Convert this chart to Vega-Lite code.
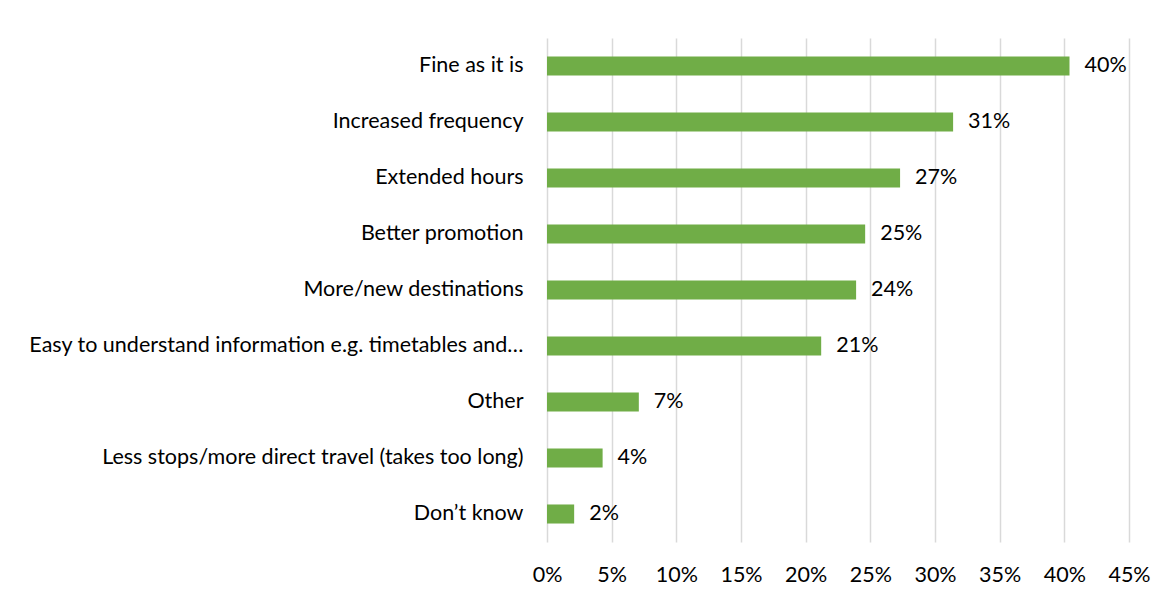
{
  "$schema": "https://vega.github.io/schema/vega-lite/v6.json",
  "autosize": {"type": "none"},
  "width": 582,
  "height": 504,
  "padding": {"left": 547, "top": 38, "right": 45, "bottom": 55},
  "background": "#ffffff",
  "config": {
    "view": {"stroke": null},
    "font": "Lato",
    "axis": {"labelFont": "Lato", "labelColor": "#000000"}
  },
  "data": {
    "values": [
      {"category": "Fine as it is", "value": 0.404},
      {"category": "Increased frequency", "value": 0.314},
      {"category": "Extended hours", "value": 0.273},
      {"category": "Better promotion", "value": 0.246},
      {"category": "More/new destinations", "value": 0.239},
      {"category": "Easy to understand information e.g. timetables and…", "value": 0.212},
      {"category": "Other", "value": 0.071},
      {"category": "Less stops/more direct travel (takes too long)", "value": 0.043},
      {"category": "Don’t know", "value": 0.021}
    ]
  },
  "encoding": {
    "y": {
      "field": "category",
      "type": "nominal",
      "sort": null,
      "scale": {"paddingInner": 0.66, "paddingOuter": 0.33},
      "axis": {
        "title": null,
        "domain": false,
        "ticks": false,
        "labelFontSize": 21.5,
        "labelPadding": 24,
        "labelLimit": 600
      }
    },
    "x": {
      "field": "value",
      "type": "quantitative",
      "scale": {"domain": [0, 0.45], "nice": false},
      "axis": {
        "title": null,
        "format": ".0%",
        "values": [0, 0.05, 0.1, 0.15, 0.2, 0.25, 0.3, 0.35, 0.4, 0.45],
        "domain": false,
        "ticks": false,
        "grid": true,
        "gridColor": "#d9d9d9",
        "gridWidth": 1.5,
        "labelFlush": false,
        "labelFontSize": 21.5,
        "labelPadding": 22
      }
    }
  },
  "layer": [
    {"mark": {"type": "bar", "color": "#70ad47"}},
    {
      "mark": {"type": "text", "align": "left", "baseline": "middle", "dx": 15, "fontSize": 21.5, "color": "#000000"},
      "encoding": {"text": {"field": "value", "type": "quantitative", "format": ".0%"}}
    }
  ]
}
